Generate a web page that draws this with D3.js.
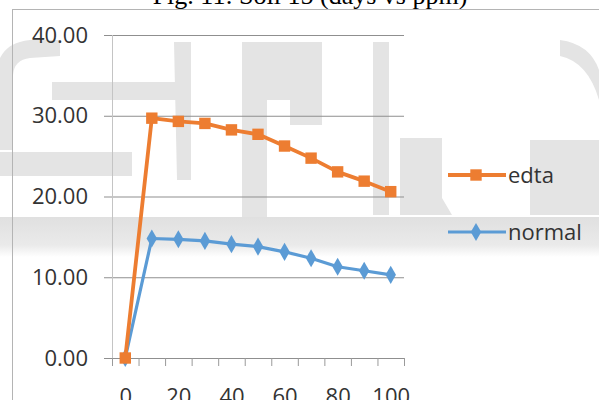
<!DOCTYPE html>
<html>
<head>
<meta charset="utf-8">
<script src="https://cdn.jsdelivr.net/npm/d3@7"></script>
<style>
  html, body { margin: 0; padding: 0; background: #fff; }
  svg { display: block; }
</style>
</head>
<body>
<svg id="chart" width="599" height="400"></svg>
<script>
// Soil 15: concentration (ppm) over time (days)
const days = [0, 10, 20, 30, 40, 50, 60, 70, 80, 90, 100];
const edta = [0, 29.7, 29.3, 29.05, 28.25, 27.7, 26.25, 24.75, 23.05, 21.9, 20.6];
const normal = [0, 14.8, 14.7, 14.5, 14.1, 13.8, 13.15, 12.35, 11.3, 10.8, 10.3];
const yTicks = [0, 10, 20, 30, 40];
const xLabels = [0, 20, 40, 60, 80, 100];
const seriesNames = ["edta", "normal"];
const seriesColors = ["#ED7D31", "#5B9BD5"];

const svg = d3.select("#chart");
const labelFont = "'Open Sans', Lato, sans-serif";

// faint background letters
const wm = svg.append("g").attr("fill", "#e4e4e4");
const wmShapes = [
  "M0,58 Q8,42 30,40 L60,40 L60,56 L30,58 Q14,60 13,75 L13,150 L0,150 Z",
  "M52,82 L191,82 L191,100 L52,100 Z",
  "M174,42 L191,42 L191,180 L177,180 Z",
  "M0,152 L132,152 L132,176 L0,176 Z",
  "M242,42 L322,42 L322,125 L290,125 L290,100 L267,100 L267,220 L242,220 Z",
  "M373,42 L389,42 L389,215 L373,215 Z",
  "M400,138 L442,138 L442,198 L452,215 L400,215 Z",
  "M530,140 L599,140 L599,215 L530,215 Z",
  "M560,40 Q590,44 599,70 L599,100 Q588,62 560,56 Z"
];
wm.selectAll("path").data(wmShapes).join("path").attr("d", d => d);
const grad = svg.append("defs").append("linearGradient")
  .attr("id", "band").attr("x1", 0).attr("x2", 0).attr("y1", 0).attr("y2", 1);
grad.append("stop").attr("offset", "0").attr("stop-color", "#e0e0e0");
grad.append("stop").attr("offset", "0.7").attr("stop-color", "#eaeaea");
grad.append("stop").attr("offset", "1").attr("stop-color", "#ffffff");
svg.append("rect").attr("x", 0).attr("y", 217).attr("width", 599).attr("height", 40)
  .attr("fill", "url(#band)");

// title (partly above the visible area)
svg.append("text")
  .attr("x", 310).attr("y", 4)
  .attr("text-anchor", "middle")
  .attr("font-family", "'Liberation Serif', 'Times New Roman', serif")
  .attr("font-size", 26)
  .attr("fill", "#000")
  .text("Fig. 11: Soil 15 (days vs ppm)");

// chart frame
svg.append("rect")
  .attr("x", 12.5).attr("y", 9.5)
  .attr("width", 620).attr("height", 420)
  .attr("fill", "none").attr("stroke", "#b4b4b4").attr("stroke-width", 1);

const x = d3.scaleLinear().domain([-5, 105]).range([112, 404]);
const y = d3.scaleLinear().domain([0, 40]).range([358, 35]);

// horizontal gridlines with their ticks and labels
const yAxis = svg.append("g")
  .attr("transform", "translate(112,0)")
  .call(d3.axisLeft(y).tickValues(yTicks).tickFormat(d3.format(".2f")).tickSize(8).tickPadding(16));
yAxis.select(".domain").remove();
yAxis.selectAll(".tick line").clone()
  .attr("x1", 0).attr("x2", x(105) - 112);
yAxis.selectAll(".tick line").attr("stroke", "#8f8f8f");
yAxis.selectAll("text")
  .attr("font-family", labelFont).attr("font-size", 22).attr("fill", "#333");

// vertical axis line
svg.append("line")
  .attr("x1", 112.5).attr("x2", 112.5)
  .attr("y1", y(40)).attr("y2", y(0))
  .attr("stroke", "#c4c4c4");

// category boundary ticks on the horizontal axis
const bounds = d3.range(-5, 106, 10);
const xTickAxis = svg.append("g")
  .attr("transform", `translate(0,${y(0)})`)
  .call(d3.axisBottom(x).tickValues(bounds).tickFormat("").tickSize(8).tickSizeOuter(0));
xTickAxis.select(".domain").attr("stroke", "#8f8f8f");
xTickAxis.selectAll(".tick line").attr("stroke", "#9a9a9a");

const xLabelAxis = svg.append("g")
  .attr("transform", `translate(0,${y(0)})`)
  .call(d3.axisBottom(x).tickValues(xLabels).tickSize(0).tickPadding(30));
xLabelAxis.select(".domain").remove();
xLabelAxis.selectAll("text")
  .attr("font-family", labelFont).attr("font-size", 22).attr("fill", "#333");

// series
const line = d3.line().x((d, i) => x(days[i])).y(d => y(d));
const series = [edta, normal];
const sq = d3.symbol().type(d3.symbolSquare).size(130);
const dm = d3.symbol().type(d3.symbolDiamond).size(95);

series.slice().reverse().forEach((vals, ri) => {
  const k = series.length - 1 - ri;
  const g = svg.append("g");
  g.append("path")
    .datum(vals)
    .attr("d", line)
    .attr("fill", "none")
    .attr("stroke", seriesColors[k])
    .attr("stroke-width", k === 0 ? 3.8 : 3.2)
    .attr("stroke-linejoin", "round");
  g.selectAll("path.mk")
    .data(vals)
    .join("path")
    .attr("class", "mk")
    .attr("transform", (d, i) => `translate(${x(days[i])},${y(d)})`)
    .attr("d", k === 0 ? sq : dm)
    .attr("fill", seriesColors[k]);
});

// legend
const legendY = [175, 232];
seriesNames.forEach((name, k) => {
  const lg = svg.append("g").attr("transform", `translate(0,${legendY[k]})`);
  lg.append("line")
    .attr("x1", 448).attr("x2", 506)
    .attr("stroke", seriesColors[k]).attr("stroke-width", k === 0 ? 3.8 : 3.2);
  lg.append("path")
    .attr("transform", "translate(476,0)")
    .attr("d", k === 0 ? sq : dm)
    .attr("fill", seriesColors[k]);
  lg.append("text")
    .attr("x", 508).attr("dy", "0.35em")
    .attr("font-family", labelFont).attr("font-size", 22)
    .attr("fill", "#333")
    .text(name);
});
</script>
</body>
</html>
